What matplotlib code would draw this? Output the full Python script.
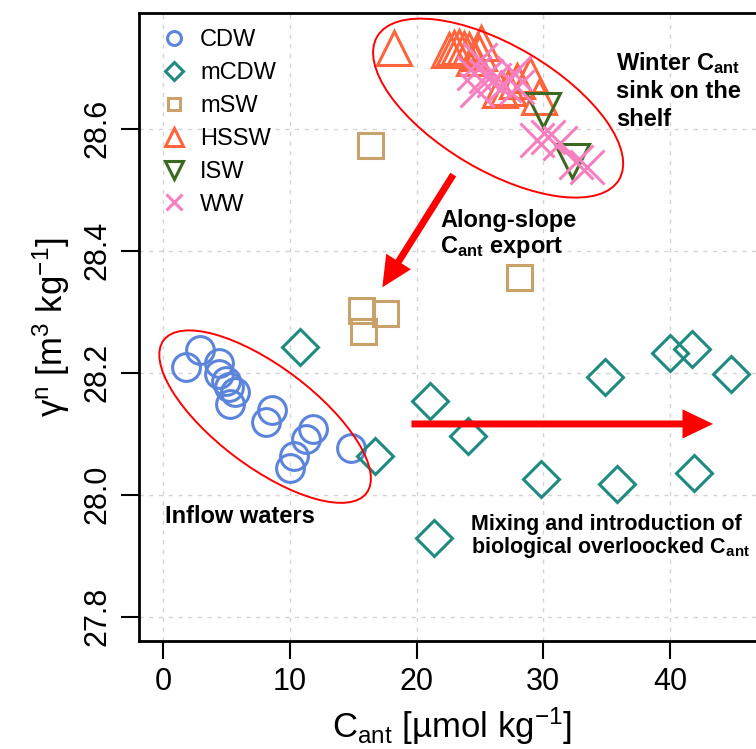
import matplotlib
matplotlib.use("Agg")
import matplotlib.pyplot as plt
from matplotlib import font_manager
from matplotlib.patches import Ellipse, FancyArrowPatch, ArrowStyle
from matplotlib.transforms import ScaledTranslation

# --- data ---
cdw_x = [1.8, 2.9, 4.4, 4.4, 5.0, 5.2, 5.7, 5.3, 8.6, 8.1, 11.8, 11.3, 10.3, 10.0, 14.8]
cdw_y = [28.210, 28.237, 28.216, 28.198, 28.187, 28.177, 28.168, 28.148,
         28.139, 28.120, 28.107, 28.091, 28.063, 28.044, 28.077]

mcdw_x = [10.8, 16.7, 21.1, 24.1, 29.8, 35.8, 34.9, 40.0, 41.7, 44.8, 41.9, 21.4]
mcdw_y = [28.242, 28.063, 28.153, 28.096, 28.025, 28.018, 28.193, 28.232,
          28.239, 28.198, 28.036, 27.929]

msw_x = [16.3, 28.05, 15.6, 17.5, 15.8]
msw_y = [28.573, 28.357, 28.303, 28.298, 28.269]

hssw_x = [18.26, 22.56, 22.95, 23.35, 23.74, 24.14, 25.06, 24.93, 24.54,
          26.6, 27.25, 28.97, 29.68, 27.9]
hssw_y = [28.732, 28.730, 28.732, 28.734, 28.731, 28.730, 28.740, 28.724,
          28.716, 28.664, 28.667, 28.688, 28.652, 28.678]

isw_x = [30.0, 32.3]
isw_y = [28.631, 28.548]

ww_x = [25.0, 24.5, 25.5, 26.1, 26.9, 27.7, 27.9, 24.75, 29.5, 30.4, 31.3, 33.45, 32.6]
ww_y = [28.713, 28.691, 28.686, 28.680, 28.672, 28.691, 28.669, 28.664,
        28.582, 28.587, 28.577, 28.538, 28.546]

x_ticks = [0, 10, 20, 30, 40]
y_ticks = [27.8, 28.0, 28.2, 28.4, 28.6]

names = {f.name for f in font_manager.fontManager.ttflist}
narrow = "Liberation Sans Narrow" if "Liberation Sans Narrow" in names else "Liberation Sans"

plt.rcParams["font.family"] = ["Liberation Sans", "DejaVu Sans"]
plt.rcParams["mathtext.fontset"] = "custom"
plt.rcParams["mathtext.rm"] = narrow
plt.rcParams["mathtext.it"] = narrow + ":italic"
plt.rcParams["mathtext.bf"] = "Liberation Sans:bold"


def ellipse(fig, ax, x, y, w, h, angle):
    # size in inches, centre in data units
    tr = fig.dpi_scale_trans + ScaledTranslation(x, y, ax.transData)
    e = Ellipse((0, 0), w, h, angle=angle, transform=tr, fill=False,
                edgecolor="#ff0000", lw=1.4, zorder=5)
    ax.add_patch(e)


def arrow(ax, start, end):
    style = ArrowStyle.Simple(head_length=22, head_width=21, tail_width=5)
    a = FancyArrowPatch(start, end, arrowstyle=style, mutation_scale=1,
                        color="#ff0000", lw=0, shrinkA=0, shrinkB=0, zorder=6)
    ax.add_patch(a)


def main():
    fig = plt.figure(figsize=(7.56, 7.49), dpi=100)
    ax = fig.add_axes([139 / 756, 108 / 749, 626 / 756, 628 / 749])

    mk = dict(ls="none", mfc="none", mew=2.2)
    ax.plot(cdw_x, cdw_y, marker="o", ms=20, mec="#5b84da", label="CDW", **mk)
    ax.plot(mcdw_x, mcdw_y, marker="D", ms=18, mec="#1f8a80", label="mCDW", **mk)
    ax.plot(msw_x, msw_y, marker="s", ms=18, mec="#c9a26b", label="mSW", **mk)
    ax.plot(hssw_x, hssw_y, marker="^", ms=25, mec="#ff643c", label="HSSW", **mk)
    ax.plot(isw_x, isw_y, marker="v", ms=25, mec="#3b6922", label="ISW", **mk)
    ax.plot(ww_x, ww_y, marker="x", ms=24, mec="#f57fbf", label="WW", **mk)

    ax.set_xlim(-1.9, 47.5)
    ax.set_ylim(27.76, 28.79)
    ax.set_xticks(x_ticks)
    ax.set_yticks(y_ticks)
    ax.set_yticklabels([f"{v:.1f}" for v in y_ticks])
    ax.grid(True, color="#d4d4d4", ls=(0, (3, 4)), lw=1.0, zorder=0)
    ax.set_axisbelow(True)

    for s in ax.spines.values():
        s.set_linewidth(2.0)
    ax.tick_params(direction="out", length=13, width=1.5, labelsize=22, pad=6)
    for lab in ax.get_xticklabels() + ax.get_yticklabels():
        lab.set_family(narrow)
    for lab in ax.get_yticklabels():
        lab.set_rotation(90)
        lab.set_va("center")

    ax.set_xlabel(r"C$_{\mathrm{ant}}$ [µmol kg$^{-1}$]", family=narrow,
                  fontsize=25, labelpad=6)
    ax.set_ylabel(r"γ$^{\mathrm{n}}$ [m$^{3}$ kg$^{-1}$]", family=narrow,
                  fontsize=25, labelpad=8)

    ax.legend(loc="upper left", bbox_to_anchor=(0.037, 0.974), frameon=False,
              fontsize=17, markerscale=0.5, handlelength=1.0, handletextpad=0.6,
              labelspacing=0.46, borderpad=0, borderaxespad=0)

    ellipse(fig, ax, 26.44, 28.634, 2.81, 1.25, -30.6)
    ellipse(fig, ax, 8.05, 28.128, 2.54, 1.00, -37.0)
    arrow(ax, (22.9, 28.525), (17.3, 28.34))
    arrow(ax, (19.6, 28.116), (43.4, 28.116))

    # va="baseline" on multi-line text pins the last line
    bold = dict(fontweight="bold", ha="left", va="baseline", zorder=7)
    ax.text(35.75, 28.605, "Winter $\\mathbf{C_{ant}}$\nsink on the\nshelf",
            fontsize=17, linespacing=1.25, **bold)
    ax.text(21.86, 28.397, "Along-slope\n$\\mathbf{C_{ant}}$ export",
            fontsize=17, linespacing=1.1, **bold)
    ax.text(0.16, 27.954, "Inflow waters", fontsize=17, **bold)
    ax.text(24.3, 27.905, "Mixing and introduction of\n"
            "biological overloocked $\\mathbf{C_{ant}}$",
            fontsize=15.5, linespacing=1.0, **bold)

    fig.savefig("out.png", dpi=100)


if __name__ == "__main__":
    main()
